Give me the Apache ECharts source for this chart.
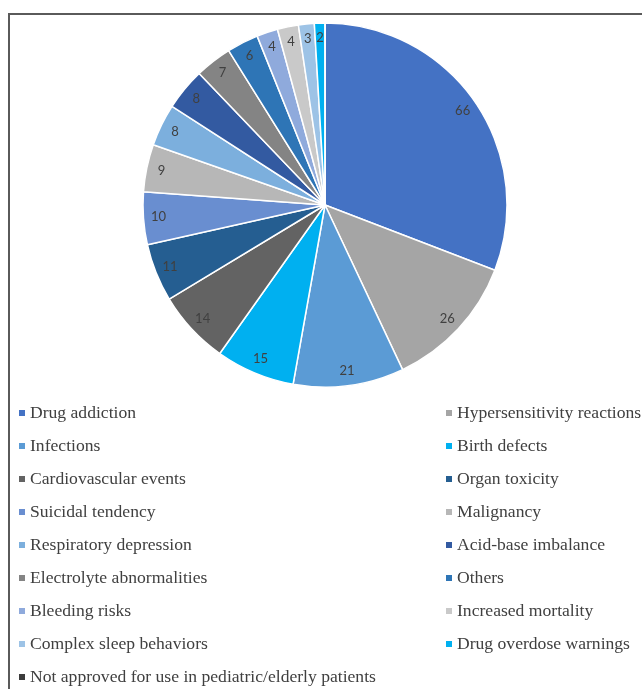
<!DOCTYPE html>
<html>
<head>
<meta charset="utf-8">
<script src="https://cdn.jsdelivr.net/npm/echarts@6/dist/echarts.min.js"></script>
<style>
  html, body { margin: 0; padding: 0; background: #fff; }
  #chart { width: 642px; height: 689px; }
</style>
</head>
<body>
<div id="chart"></div>
<script>
let categories = [
  'Drug addiction', 'Hypersensitivity reactions', 'Infections', 'Birth defects',
  'Cardiovascular events', 'Organ toxicity', 'Suicidal tendency', 'Malignancy',
  'Respiratory depression', 'Acid-base imbalance', 'Electrolyte abnormalities', 'Others',
  'Bleeding risks', 'Increased mortality', 'Complex sleep behaviors', 'Drug overdose warnings',
  'Not approved for use in pediatric/elderly patients'
];
let counts = [66, 26, 21, 15, 14, 11, 10, 9, 8, 8, 7, 6, 4, 4, 3, 2, 0];
let sliceColors = [
  '#4472C4', '#A5A5A5', '#5B9BD5', '#00B0F0',
  '#636363', '#255E91', '#698ED0', '#B7B7B7',
  '#7CAFDD', '#335AA1', '#848484', '#2E75B6',
  '#8FAADC', '#C9C9C9', '#9DC3E6', '#00B0F0',
  '#3C3C3C'
];

// pie chart

var chartDom = document.getElementById('chart');
var chart = echarts.init(chartDom);

var pieData = categories.map(function (name, i) {
  return { name: name, value: counts[i], itemStyle: { color: sliceColors[i] } };
});

// legend is two columns, alternating items
var leftNames = categories.filter(function (n, i) { return i % 2 === 0; });
var rightNames = categories.filter(function (n, i) { return i % 2 === 1; });

var legendText = {
  fontFamily: '"Liberation Serif", "Times New Roman", serif',
  fontSize: 17.6,
  color: '#404040',
  lineHeight: 20
};

option = {
  animation: false,
  graphic: [
    {
      type: 'polyline',
      shape: { points: [[9, 700], [9, 14], [700, 14]] },
      style: { stroke: '#5a5a5a', lineWidth: 2, fill: null }
    }
  ],
  legend: [
    {
      data: leftNames,
      orient: 'vertical',
      left: 19,
      top: 403,
      height: 330,
      padding: 0,
      icon: 'rect',
      itemWidth: 6,
      itemHeight: 6,
      itemGap: 13,
      itemStyle: { borderWidth: 0 },
      selectedMode: false,
      textStyle: legendText
    },
    {
      data: rightNames,
      orient: 'vertical',
      left: 446,
      top: 403,
      height: 330,
      padding: 0,
      icon: 'rect',
      itemWidth: 6,
      itemHeight: 6,
      itemGap: 13,
      itemStyle: { borderWidth: 0 },
      selectedMode: false,
      textStyle: legendText
    }
  ],
  series: [
    {
      type: 'pie',
      center: [325, 205],
      radius: [0, 182],
      startAngle: 90,
      clockwise: true,
      silent: true,
      label: { show: false },
      labelLine: { show: false },
      itemStyle: { borderColor: '#ffffff', borderWidth: 1.5 },
      data: pieData
    },
    {
      // transparent ring, only used to place the value labels near the rim
      type: 'pie',
      center: [325, 205],
      radius: [146, 182],
      startAngle: 90,
      clockwise: true,
      silent: true,
      itemStyle: { color: 'rgba(0,0,0,0)', borderWidth: 0 },
      label: {
        show: true,
        position: 'inside',
        fontFamily: 'Lato, "Open Sans", sans-serif',
        fontSize: 13,
        color: '#404040',
        formatter: function (p) { return p.value > 0 ? String(p.value) : ''; }
      },
      labelLine: { show: false },
      data: pieData.map(function (d) { return { name: d.name, value: d.value }; })
    }
  ]
};

chart.setOption(option);
</script>
</body>
</html>
